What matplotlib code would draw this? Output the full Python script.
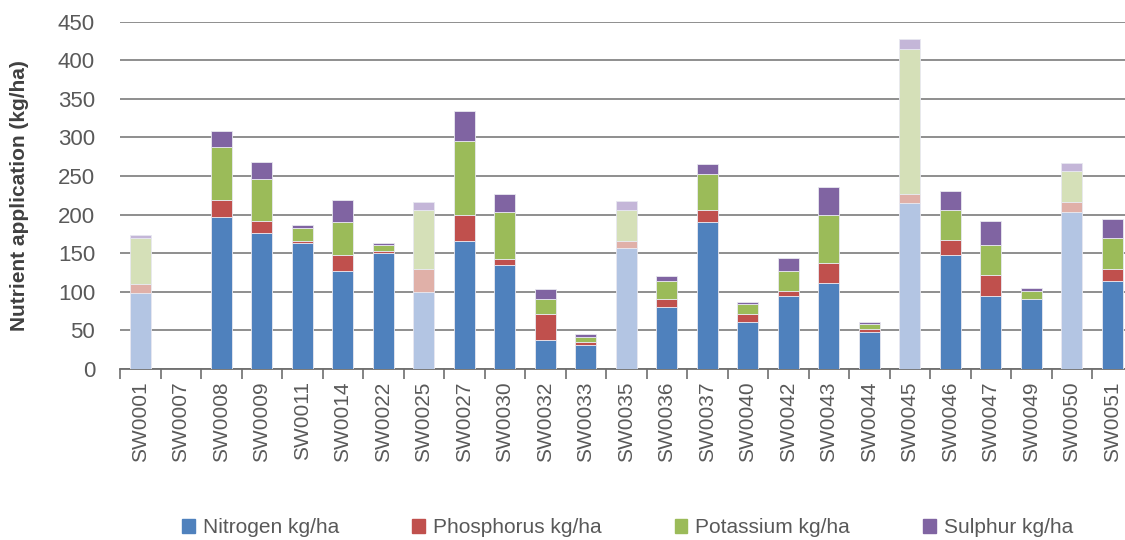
import matplotlib
matplotlib.use('Agg')
import matplotlib.pyplot as plt
import numpy as np

plt.rcParams['font.family'] = ['Liberation Sans', 'DejaVu Sans']

# Data
sites = ['SW0001', 'SW0007', 'SW0008', 'SW0009', 'SW0011', 'SW0014', 'SW0022', 'SW0025',
         'SW0027', 'SW0030', 'SW0032', 'SW0033', 'SW0035', 'SW0036', 'SW0037', 'SW0040',
         'SW0042', 'SW0043', 'SW0044', 'SW0045', 'SW0046', 'SW0047', 'SW0049', 'SW0050', 'SW0051']
nitrogen = [98, 0, 197, 176, 163, 127, 150, 100, 166, 134, 38, 31, 157, 80, 190, 61,
            94, 111, 48, 215, 147, 94, 90, 203, 114]
phosphorus = [12, 0, 22, 16, 3, 20, 3, 29, 33, 9, 33, 3.5, 9, 10, 16, 10,
              7, 26, 3, 11, 20, 27, 1, 13, 16]
potassium = [60, 0, 69, 54, 17, 43, 7, 77, 96, 60, 20, 7, 40, 24, 46, 13,
             26, 63, 7, 188, 39, 39, 10, 40, 40]
sulphur = [4, 0, 20, 22, 3, 29, 3, 10, 39, 23, 13, 3, 11, 6, 13, 3,
           17, 36, 3, 14, 24, 31, 4, 11, 24]
# sites drawn in pale colours
pale_sites = ['SW0001', 'SW0025', 'SW0035', 'SW0045', 'SW0050']

series = {
    'Nitrogen kg/ha': nitrogen,
    'Phosphorus kg/ha': phosphorus,
    'Potassium kg/ha': potassium,
    'Sulphur kg/ha': sulphur,
}
colors = ['#4F81BD', '#C0504D', '#9BBB59', '#8064A2']
pale = ['#B3C5E3', '#E0B0A8', '#D5E0B8', '#C4B6D8']

fig = plt.figure(figsize=(11.25, 5.4), dpi=100)
ax = fig.add_axes([0.1067, 0.317, 0.9, 0.6428])

x = np.arange(len(sites))
bottom = np.zeros(len(sites))
for (name, vals), c, pc in zip(series.items(), colors, pale):
    vals = np.array(vals, dtype=float)
    cols = [pc if s in pale_sites else c for s in sites]
    ax.bar(x, vals, width=0.52, bottom=bottom, color=cols, edgecolor='#E8E8F0',
           linewidth=0.6, label=name, zorder=3)
    bottom += vals

ax.set_xlim(-0.5, len(sites) - 0.5)
ax.set_ylim(0, 450)
ax.set_yticks(np.arange(0, 451, 50))
ax.yaxis.grid(True, color='#868686', linewidth=1.3, zorder=0)
ax.set_axisbelow(True)

for side in ['top', 'right', 'left']:
    ax.spines[side].set_visible(False)
ax.spines['bottom'].set_color('#6E6E6E')
ax.spines['bottom'].set_linewidth(1.3)

ax.set_xticks(x)
ax.set_xticklabels(sites, rotation=90, fontsize=15, color='#595959')
ax.set_xticks(np.arange(-0.5, len(sites), 1), minor=True)
ax.tick_params(axis='x', which='major', length=0, pad=9)
ax.tick_params(axis='x', which='minor', length=7, width=1.2, color='#6E6E6E')
ax.tick_params(axis='y', length=0, labelsize=16, labelcolor='#595959', pad=18)

ax.set_ylabel('Nutrient application (kg/ha)', fontsize=15, fontweight='bold',
              color='#404040', labelpad=21)

labels = list(series.keys())
handles = [plt.Rectangle((0, 0), 1, 1, color=c) for c in colors]
fig.legend(handles, labels, loc='lower center', bbox_to_anchor=(0.558, -0.03), ncol=4,
           frameon=False, fontsize=15, labelcolor='#595959', handlelength=0.6,
           handleheight=0.6, columnspacing=3.5, handletextpad=0.4)

fig.savefig('out.png', dpi=100)
